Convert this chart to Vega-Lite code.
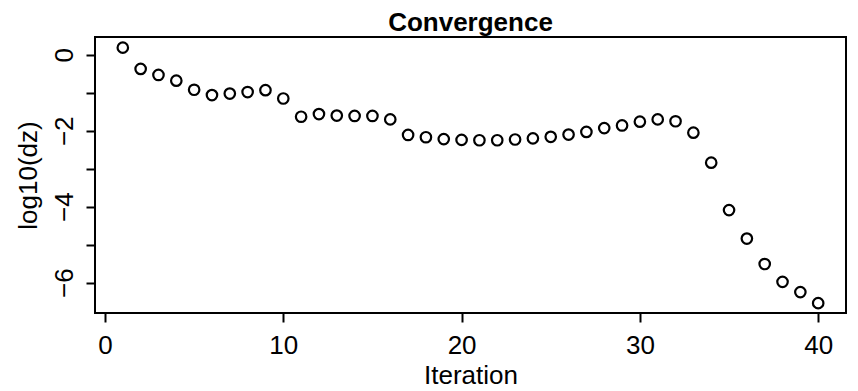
{
  "$schema": "https://vega.github.io/schema/vega-lite/v6.json",
  "width": 751,
  "height": 276,
  "autosize": {"type": "none"},
  "padding": {"left": 95, "top": 37, "right": 12, "bottom": 78},
  "background": "white",
  "title": {"text": "Convergence", "font": "Liberation Sans", "fontSize": 26, "fontWeight": "bold", "anchor": "middle", "offset": 1, "color": "black"},
  "config": {"view": {"stroke": "black", "strokeWidth": 2}},
  "data": {"values": [
    {"iteration": 1, "logdz": 0.19},
    {"iteration": 2, "logdz": -0.37},
    {"iteration": 3, "logdz": -0.53},
    {"iteration": 4, "logdz": -0.68},
    {"iteration": 5, "logdz": -0.92},
    {"iteration": 6, "logdz": -1.06},
    {"iteration": 7, "logdz": -1.02},
    {"iteration": 8, "logdz": -0.98},
    {"iteration": 9, "logdz": -0.93},
    {"iteration": 10, "logdz": -1.15},
    {"iteration": 11, "logdz": -1.63},
    {"iteration": 12, "logdz": -1.56},
    {"iteration": 13, "logdz": -1.6},
    {"iteration": 14, "logdz": -1.61},
    {"iteration": 15, "logdz": -1.61},
    {"iteration": 16, "logdz": -1.7},
    {"iteration": 17, "logdz": -2.11},
    {"iteration": 18, "logdz": -2.17},
    {"iteration": 19, "logdz": -2.22},
    {"iteration": 20, "logdz": -2.24},
    {"iteration": 21, "logdz": -2.25},
    {"iteration": 22, "logdz": -2.25},
    {"iteration": 23, "logdz": -2.23},
    {"iteration": 24, "logdz": -2.2},
    {"iteration": 25, "logdz": -2.16},
    {"iteration": 26, "logdz": -2.1},
    {"iteration": 27, "logdz": -2.03},
    {"iteration": 28, "logdz": -1.93},
    {"iteration": 29, "logdz": -1.86},
    {"iteration": 30, "logdz": -1.76},
    {"iteration": 31, "logdz": -1.7},
    {"iteration": 32, "logdz": -1.75},
    {"iteration": 33, "logdz": -2.05},
    {"iteration": 34, "logdz": -2.84},
    {"iteration": 35, "logdz": -4.09},
    {"iteration": 36, "logdz": -4.84},
    {"iteration": 37, "logdz": -5.51},
    {"iteration": 38, "logdz": -5.98},
    {"iteration": 39, "logdz": -6.25},
    {"iteration": 40, "logdz": -6.54}
  ]},
  "mark": {"type": "point", "shape": "circle", "filled": false, "stroke": "black", "strokeWidth": 2.2, "size": 110, "opacity": 1},
  "encoding": {
    "x": {
      "field": "iteration", "type": "quantitative",
      "scale": {"domain": [-0.56, 41.56], "nice": false, "zero": false},
      "axis": {
        "title": "Iteration", "values": [0, 10, 20, 30, 40], "grid": false, "domain": false,
        "tickSize": 9, "tickWidth": 2, "tickColor": "black",
        "labelFont": "Liberation Sans", "labelFontSize": 26, "labelColor": "black", "labelPadding": 10,
        "labelFlush": false, "labelOverlap": false,
        "titleFont": "Liberation Sans", "titleFontSize": 26, "titleFontWeight": "normal", "titleColor": "black", "titlePadding": 4
      }
    },
    "y": {
      "field": "logdz", "type": "quantitative",
      "scale": {"domain": [-6.8, 0.47], "nice": false, "zero": false},
      "axis": {
        "title": "log10(dz)", "values": [-6, -5, -4, -3, -2, -1, 0], "grid": false, "domain": false,
        "tickSize": 9, "tickWidth": 2, "tickColor": "black",
        "labelExpr": "datum.value % 2 == 0 ? datum.label : ''",
        "labelAngle": -90, "labelAlign": "center", "labelBaseline": "alphabetic",
        "labelFont": "Liberation Sans", "labelFontSize": 26, "labelColor": "black", "labelPadding": 14,
        "labelFlush": false, "labelOverlap": false,
        "titleFont": "Liberation Sans", "titleFontSize": 26, "titleFontWeight": "normal", "titleColor": "black", "titlePadding": 10
      }
    }
  }
}
